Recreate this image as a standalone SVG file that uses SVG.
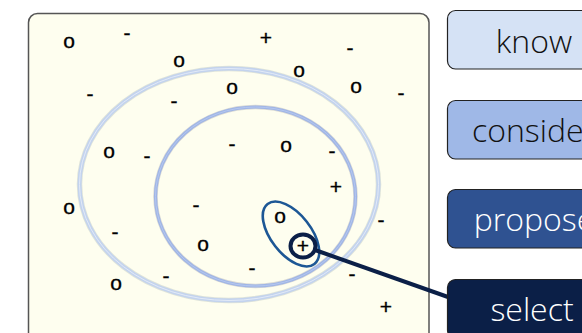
<svg xmlns="http://www.w3.org/2000/svg" width="582" height="333" viewBox="0 0 582 333">
<style>
.sym{font-family:"Liberation Sans",Arial,sans-serif;font-size:21px;fill:#000;stroke:#000;stroke-width:0.35;text-anchor:middle}
.lbl{font-family:"Open Sans","Liberation Sans",sans-serif;font-weight:300;font-size:32px;text-anchor:middle}
.box{stroke:#222;stroke-width:1.2}
</style>
<rect width="582" height="333" fill="#ffffff"/>
<g id="panel">
<rect x="28.5" y="13.5" width="400.5" height="340" rx="9" fill="#fefeef" stroke="#555" stroke-width="1.5"/>
</g>
<g id="know-set">
<ellipse cx="229" cy="184.5" rx="149.5" ry="116" fill="none" stroke="#9aa" stroke-opacity="0.3" stroke-width="5.5"/>
<ellipse cx="229" cy="184.5" rx="149.5" ry="116" fill="none" stroke="#c3d3ee" stroke-width="4"/>
<ellipse cx="229" cy="184.5" rx="149.5" ry="116" fill="none" stroke="#e2eaf7" stroke-width="1"/>
</g>
<g id="consider-set">
<ellipse cx="255.5" cy="196.5" rx="100" ry="89.5" fill="none" stroke="#889" stroke-opacity="0.3" stroke-width="4.5"/>
<ellipse cx="255.5" cy="196.5" rx="100" ry="89.5" fill="none" stroke="#9fb5e6" stroke-width="3.2"/>
<ellipse cx="255.5" cy="196.5" rx="100" ry="89.5" fill="none" stroke="#b5c7ee" stroke-width="1"/>
</g>
<g id="propose-set">
<ellipse cx="0" cy="0" rx="38" ry="20" transform="translate(291 234) rotate(52)" fill="none" stroke="#1d5795" stroke-width="2.6"/>
</g>
<g id="symbols">
<text class="sym" x="69" y="47.5">o</text>
<text class="sym" x="127" y="40">-</text>
<text class="sym" x="266" y="45">+</text>
<text class="sym" x="350" y="55">-</text>
<text class="sym" x="179" y="66.5">o</text>
<text class="sym" x="299" y="76.5">o</text>
<text class="sym" x="232" y="93.5">o</text>
<text class="sym" x="356" y="92.5">o</text>
<text class="sym" x="90" y="101">-</text>
<text class="sym" x="174" y="108">-</text>
<text class="sym" x="401" y="100">-</text>
<text class="sym" x="109" y="157.5">o</text>
<text class="sym" x="147" y="163">-</text>
<text class="sym" x="232" y="151">-</text>
<text class="sym" x="286" y="151.5">o</text>
<text class="sym" x="332" y="158">-</text>
<text class="sym" x="336" y="194">+</text>
<text class="sym" x="69" y="213.5">o</text>
<text class="sym" x="196" y="212">-</text>
<text class="sym" x="280" y="222.5">o</text>
<text class="sym" x="381" y="227">-</text>
<text class="sym" x="115" y="239">-</text>
<text class="sym" x="203" y="250.5">o</text>
<text class="sym" x="252" y="275">-</text>
<text class="sym" x="352" y="281">-</text>
<text class="sym" x="166" y="283">-</text>
<text class="sym" x="116" y="289.5">o</text>
<text class="sym" x="386" y="314">+</text>
</g>
<g id="connectors">
<line x1="315" y1="250" x2="448" y2="297" stroke="#0b1f47" stroke-width="4"/>
</g>
<g id="select-item">
<ellipse cx="303" cy="246" rx="12.5" ry="11.5" fill="#fefeef" stroke="#0b1f47" stroke-width="4"/>
<text class="sym" x="303" y="253">+</text>
</g>
<g id="know">
<rect class="box" x="447.5" y="10.5" width="200" height="58.5" rx="8" fill="#d5e2f5"/>
<text class="lbl" x="534" y="53" fill="#111">know</text>
</g>
<g id="consider">
<rect class="box" x="447.5" y="100.5" width="200" height="58.5" rx="8" fill="#9fb8e7"/>
<text class="lbl" x="534" y="142" fill="#111">consider</text>
</g>
<g id="propose">
<rect class="box" x="447.5" y="189.5" width="200" height="58.5" rx="8" fill="#2f5291"/>
<text class="lbl" x="534" y="231" fill="#fff">propose</text>
</g>
<g id="select">
<rect class="box" x="447.5" y="279.5" width="200" height="58.5" rx="8" fill="#0b1f47"/>
<text class="lbl" x="532" y="321" fill="#fff">select</text>
</g>
</svg>
